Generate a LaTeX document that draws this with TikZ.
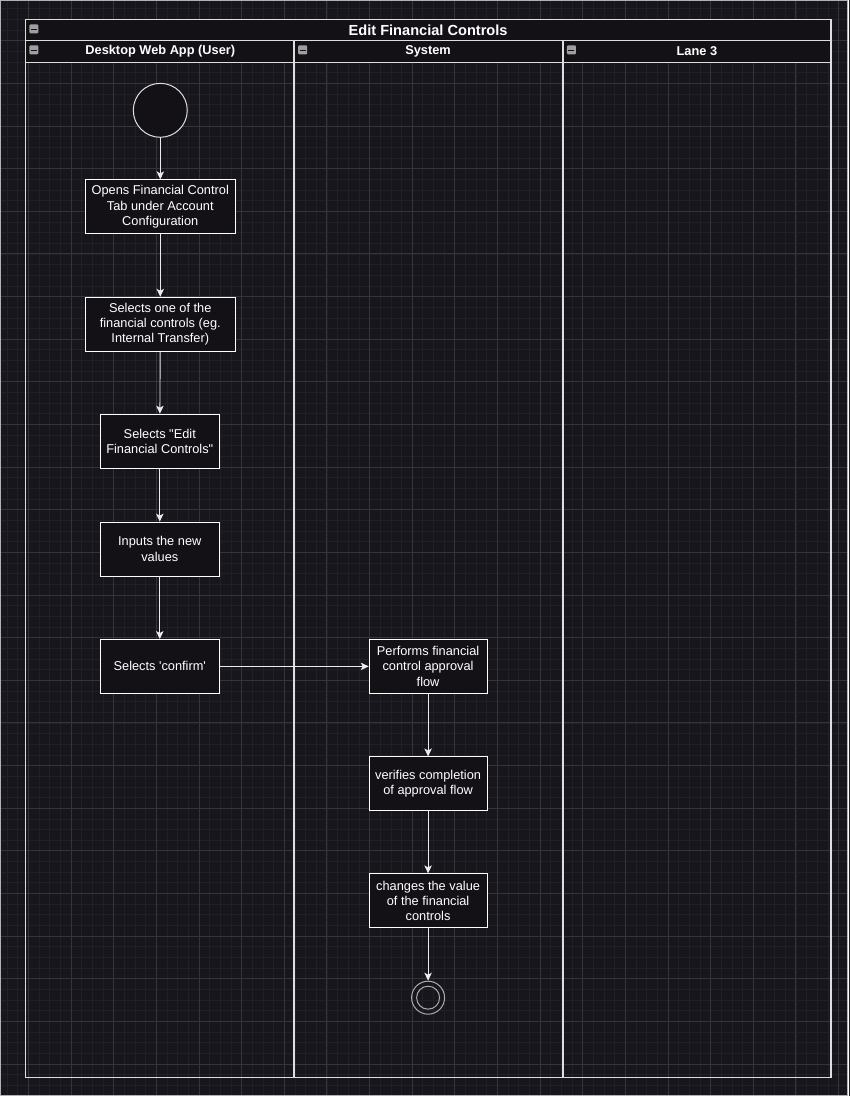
\documentclass[tikz,border=0pt]{standalone}
\usepackage{fontspec}
\setmainfont{Liberation Sans}
\usetikzlibrary{positioning,arrows.meta}
\definecolor{canvasbg}{RGB}{23,22,28}
\definecolor{gridminor}{RGB}{33,32,38}
\definecolor{gridmajor}{RGB}{52,52,58}
\definecolor{boxfill}{RGB}{19,17,22}
\definecolor{laneline}{RGB}{222,222,222}

\begin{document}
\begin{tikzpicture}[x=1pt,y=-1pt,
    actbox/.style={draw=white,line width=0.8pt,fill=boxfill,text=white,align=center,
      font=\fontsize{12.8}{15.3}\selectfont,inner sep=0pt,minimum width=119pt,minimum height=54pt},
    widebox/.style={actbox,minimum width=150pt},
    flow/.style={draw=white!92!black,line width=0.9pt,-{Stealth[length=8pt,width=7.5pt,inset=2pt]}},
    lanetitle/.style={text=white,font=\bfseries\fontsize{12.8}{14}\selectfont},
    pooltitle/.style={text=white,font=\bfseries\fontsize{14.6}{16}\selectfont}]

    % canvas and grid
    \fill[canvasbg] (0,0) rectangle (848,1096);
    \foreach \k in {0,...,79} \draw[gridminor,line width=0.6pt] ({6.67+10.667*\k},0) -- ++(0,1096);
    \foreach \k in {0,...,101} \draw[gridminor,line width=0.6pt] (0,{8.3+10.667*\k}) -- ++(848,0);
    \foreach \k in {0,...,19} \draw[gridmajor,line width=0.8pt] ({28+42.667*\k},0) -- ++(0,1096);
    \foreach \k in {0,...,24} \draw[gridmajor,line width=0.8pt] (0,{40.3+42.667*\k}) -- ++(848,0);
    \draw[gray!60,line width=1pt] (0.5,0.5) rectangle (847.5,1095.5);

    % pool and lanes
    \fill[boxfill] (25,19) rectangle (831,62);
    \draw[laneline,line width=1.5pt] (25,19) rectangle (831,1078);
    \draw[laneline,line width=1.5pt] (25,40) -- (831,40) (25,62) -- (831,62);
    \draw[laneline,line width=1.5pt] (294,40) -- (294,1078) (563,40) -- (563,1078);
    \foreach \ix/\iy in {29/24,29/45,298/45,567/45} {
      \fill[gray!75,rounded corners=1pt] (\ix,\iy) rectangle ++(9,9);
      \draw[boxfill,line width=1.4pt] (\ix+1.5,\iy+5) -- ++(6,0);
    }
    \node[pooltitle] (pool) at (428,30) {Edit Financial Controls};
    \node[lanetitle] (user) at (160,51) {Desktop Web App (User)};
    \node[lanetitle] (system) at (428,51) {System};
    \node[lanetitle] (lane3) at (697,51) {Lane 3};

    % user lane
    \node[circle,draw=white!88!black,line width=1pt,fill=boxfill,minimum size=54pt,inner sep=0pt] (start) at (160,110) {};
    \node[widebox] (opens) at (160,206.5) {Opens Financial Control\\Tab under Account\\Configuration};
    \node[widebox] (selone) at (160,324) {Selects one of the\\financial controls (eg.\\Internal Transfer)};
    \node[actbox] (seledit) at (159.5,441) {Selects \textquotedbl Edit\\Financial Controls\textquotedbl};
    \node[actbox] (inputs) at (159.5,549) {Inputs the new\\values};
    \node[actbox] (confirm) at (159.5,666.5) {Selects \textquotesingle confirm\textquotesingle};

    % system lane
    \node[actbox,minimum width=118pt] (performs) at (428,666.5) {Performs financial\\control approval\\flow};
    \node[actbox,minimum width=118pt] (verifies) at (428,784) {verifies completion\\of approval flow};
    \node[actbox,minimum width=118pt] (changes) at (428,901) {changes the value\\of the financial\\controls};
    \node[circle,draw=gray!65,line width=1pt,minimum size=33pt,inner sep=0pt] (finish) at (428,998) {};
    \draw[gray!65,line width=1pt] (finish.center) circle[radius=11.5];

    \draw[flow] (start) -- (opens);
    \draw[flow] (opens) -- (selone);
    \draw[flow] (selone) -- (seledit);
    \draw[flow] (seledit) -- (inputs);
    \draw[flow] (inputs) -- (confirm);
    \draw[flow] (confirm) -- (performs);
    \draw[flow] (performs) -- (verifies);
    \draw[flow] (verifies) -- (changes);
    \draw[flow] (changes) -- (finish);

\end{tikzpicture}
\end{document}
